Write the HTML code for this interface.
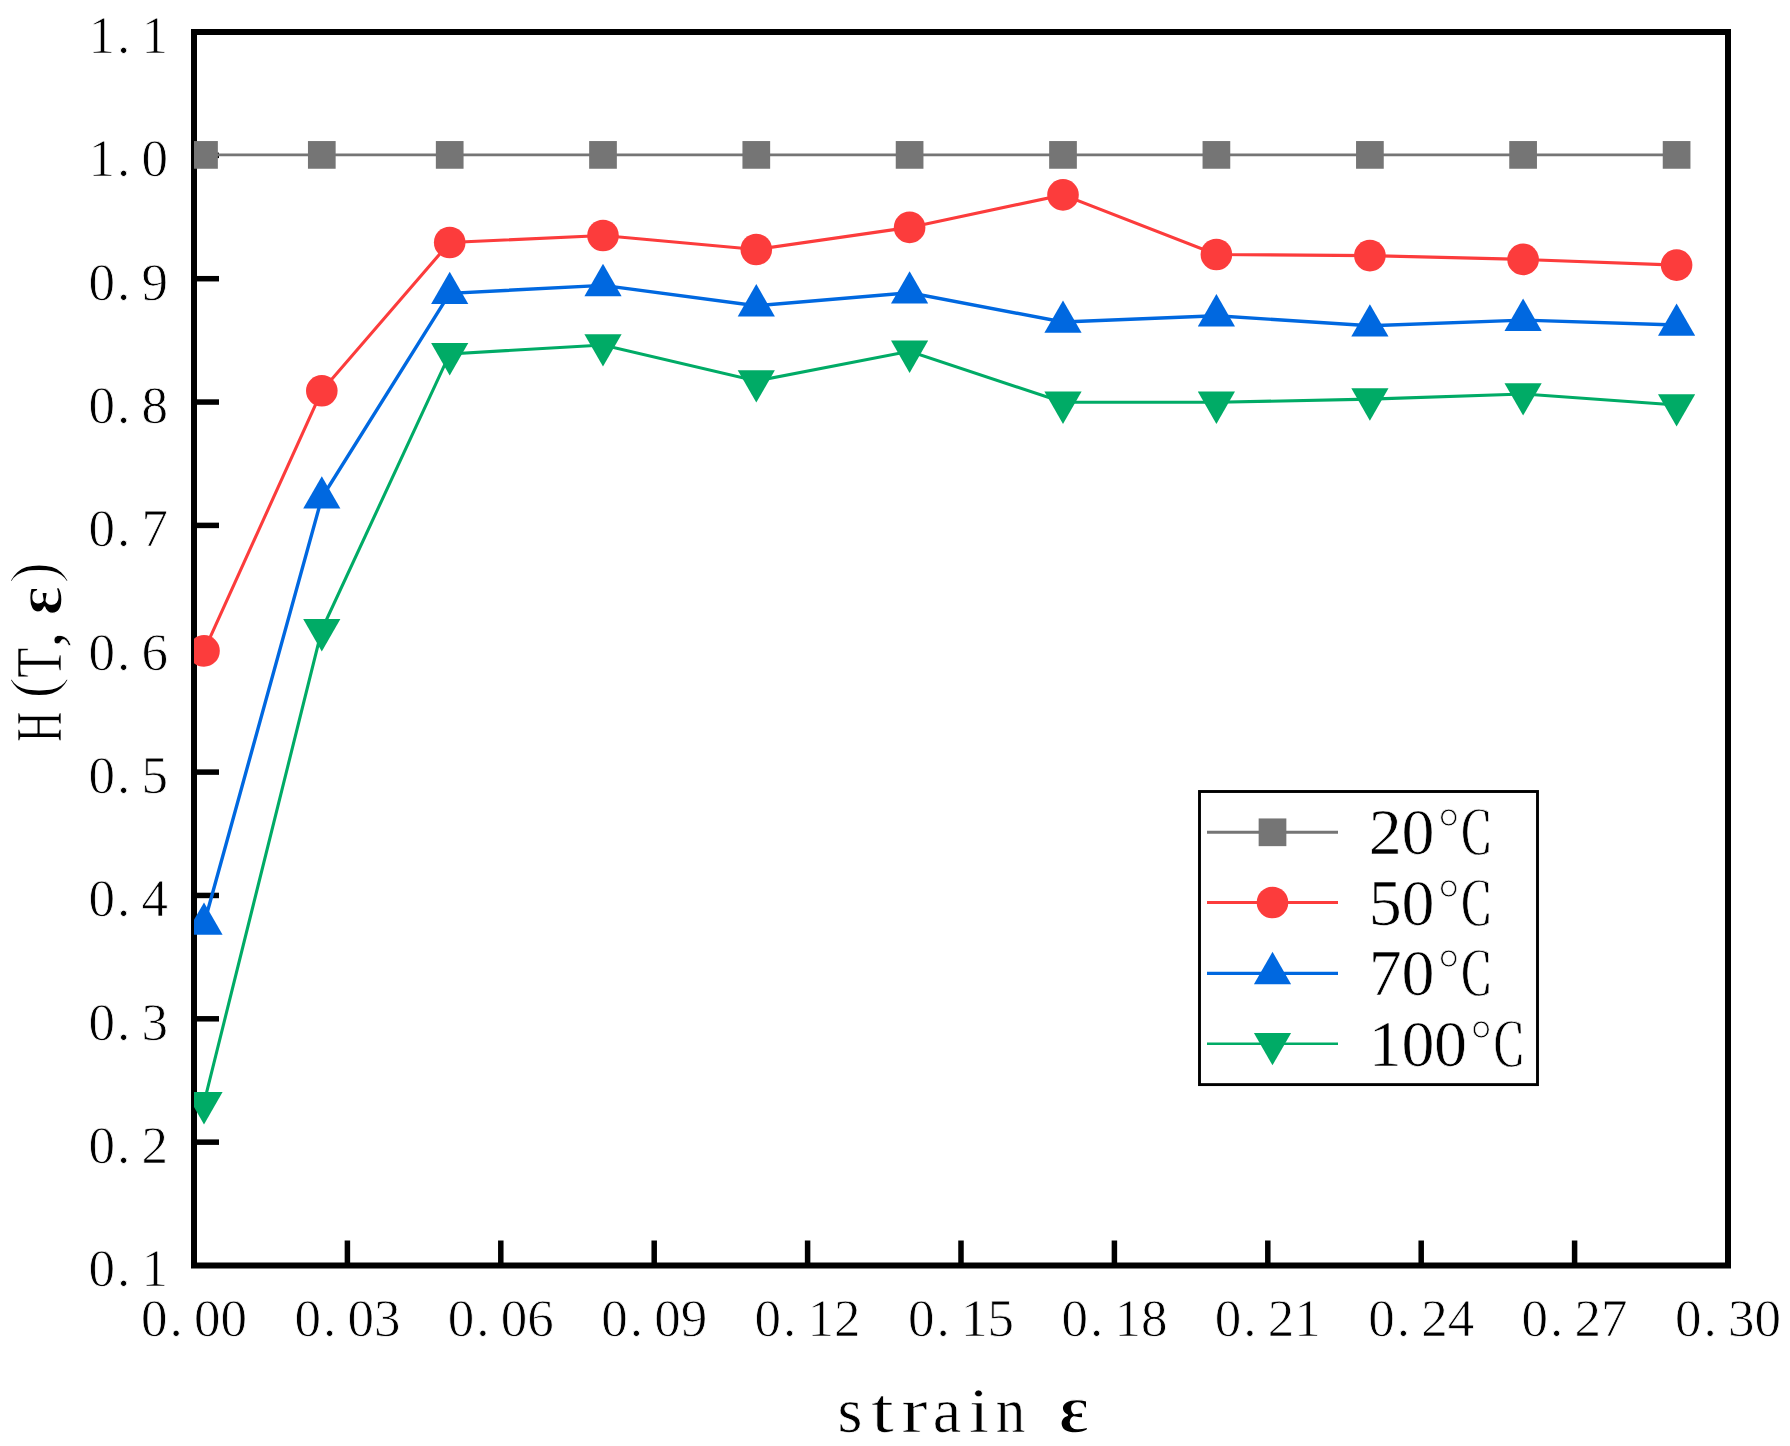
<!DOCTYPE html>
<html lang="en"><head><meta charset="utf-8"><title>H(T,ε) versus strain ε</title>
<style>html,body{margin:0;padding:0;background:#fff}body{width:1790px;height:1446px;overflow:hidden}svg{display:block}text{font-family:'Liberation Serif', 'Noto Serif CJK SC', serif;fill:#000}</style>
</head><body>
<svg width="1790" height="1446" viewBox="0 0 1790 1446">
<rect x="0" y="0" width="1790" height="1446" fill="#fff"/>
<defs><clipPath id="ax"><rect x="194" y="32" width="1534" height="1233.5"/></clipPath></defs>
<g id="frame" fill="none" stroke="#000" stroke-width="6">
<rect x="194" y="32" width="1534" height="1233.5"/>
</g>
<g id="ticks" stroke="#000" stroke-width="5.5">
<line x1="347.4" y1="1265.5" x2="347.4" y2="1240.5"/>
<line x1="500.8" y1="1265.5" x2="500.8" y2="1240.5"/>
<line x1="654.2" y1="1265.5" x2="654.2" y2="1240.5"/>
<line x1="807.6" y1="1265.5" x2="807.6" y2="1240.5"/>
<line x1="961" y1="1265.5" x2="961" y2="1240.5"/>
<line x1="1114.4" y1="1265.5" x2="1114.4" y2="1240.5"/>
<line x1="1267.8" y1="1265.5" x2="1267.8" y2="1240.5"/>
<line x1="1421.2" y1="1265.5" x2="1421.2" y2="1240.5"/>
<line x1="1574.6" y1="1265.5" x2="1574.6" y2="1240.5"/>
<line x1="194" y1="1142.15" x2="219" y2="1142.15"/>
<line x1="194" y1="1018.8" x2="219" y2="1018.8"/>
<line x1="194" y1="895.45" x2="219" y2="895.45"/>
<line x1="194" y1="772.1" x2="219" y2="772.1"/>
<line x1="194" y1="648.75" x2="219" y2="648.75"/>
<line x1="194" y1="525.4" x2="219" y2="525.4"/>
<line x1="194" y1="402.05" x2="219" y2="402.05"/>
<line x1="194" y1="278.7" x2="219" y2="278.7"/>
<line x1="194" y1="155.35" x2="219" y2="155.35"/>
</g>
<g id="ylabels" font-size="53" stroke="#fff" stroke-width="0.75">
<text x="88.5 117 141.5" y="1286.3">0.1</text>
<text x="88.5 117 141.5" y="1162.95">0.2</text>
<text x="88.5 117 141.5" y="1039.6">0.3</text>
<text x="88.5 117 141.5" y="916.25">0.4</text>
<text x="88.5 117 141.5" y="792.9">0.5</text>
<text x="88.5 117 141.5" y="669.55">0.6</text>
<text x="88.5 117 141.5" y="546.2">0.7</text>
<text x="88.5 117 141.5" y="422.85">0.8</text>
<text x="88.5 117 141.5" y="299.5">0.9</text>
<text x="88.5 117 141.5" y="176.15">1.0</text>
<text x="88.5 117 141.5" y="52.8">1.1</text>
</g>
<g id="xlabels" font-size="53" stroke="#fff" stroke-width="0.75">
<text x="141 169.5 194 220.5" y="1336.3">0.00</text>
<text x="294.4 322.9 347.4 373.9" y="1336.3">0.03</text>
<text x="447.8 476.3 500.8 527.3" y="1336.3">0.06</text>
<text x="601.2 629.7 654.2 680.7" y="1336.3">0.09</text>
<text x="754.6 783.1 807.6 834.1" y="1336.3">0.12</text>
<text x="908 936.5 961 987.5" y="1336.3">0.15</text>
<text x="1061.4 1089.9 1114.4 1140.9" y="1336.3">0.18</text>
<text x="1214.8 1243.3 1267.8 1294.3" y="1336.3">0.21</text>
<text x="1368.2 1396.7 1421.2 1447.7" y="1336.3">0.24</text>
<text x="1521.6 1550.1 1574.6 1601.1" y="1336.3">0.27</text>
<text x="1675 1703.5 1728 1754.5" y="1336.3">0.30</text>
</g>
<text id="xtitle" font-size="64" y="1431.5" stroke="#fff" stroke-width="0.6"><tspan x="837.55">s</tspan><tspan x="871.25" textLength="22.5" lengthAdjust="spacingAndGlyphs">t</tspan><tspan x="901.5" textLength="26" lengthAdjust="spacingAndGlyphs">r</tspan><tspan x="932.79">a</tspan><tspan x="969" textLength="20" lengthAdjust="spacingAndGlyphs">i</tspan><tspan x="995.75" textLength="29.5" lengthAdjust="spacingAndGlyphs">n</tspan><tspan x="1026"> </tspan><tspan font-weight="bold" font-size="70" x="1059" stroke-width="1.3">ε</tspan></text>
<g transform="translate(61.2,742.75) rotate(-90)">
<text id="ytitle" font-size="66" y="0" stroke="#fff" stroke-width="0.6"><tspan x="1" textLength="30" lengthAdjust="spacingAndGlyphs">H</tspan><tspan x="44" dy="-6" stroke-width="1.6">(</tspan><tspan x="65" dy="6" textLength="30" lengthAdjust="spacingAndGlyphs">T</tspan><tspan x="95">,</tspan><tspan x="127.5" font-weight="bold" font-size="68" stroke-width="1.3">ε</tspan><tspan x="159" dy="-6" stroke-width="1.6">)</tspan></text>
</g>
<g id="data" clip-path="url(#ax)">
<path d="M204 154.9 L321.8 154.9 L449.7 154.9 L603 154.9 L756.3 154.9 L909.6 154.9 L1063 154.9 L1216.4 154.9 L1369.9 154.9 L1523.1 154.9 L1676.6 154.9" fill="none" stroke="#757575" stroke-width="2.8"/>
<path d="M204 650.9 L321.8 390.8 L449.7 242.5 L603 235.5 L756.3 249.5 L909.6 227.4 L1063 194.9 L1216.4 254.5 L1369.9 255.6 L1523.1 259.4 L1676.6 265.1" fill="none" stroke="#FC3C3C" stroke-width="3.1"/>
<path d="M204 924 L321.8 497.8 L449.7 293.3 L603 285.4 L756.3 305.7 L909.6 292.8 L1063 322 L1216.4 315.7 L1369.9 325.8 L1523.1 320.1 L1676.6 325" fill="none" stroke="#0068E0" stroke-width="3.4"/>
<path d="M204 1102.8 L321.8 629.8 L449.7 353.9 L603 345 L756.3 381 L909.6 351.3 L1063 402.3 L1216.4 402.3 L1369.9 399.1 L1523.1 394 L1676.6 405" fill="none" stroke="#00AB66" stroke-width="3.1"/>
<rect x="190.15" y="141.05" width="27.7" height="27.7" fill="#757575"/>
<rect x="307.95" y="141.05" width="27.7" height="27.7" fill="#757575"/>
<rect x="435.85" y="141.05" width="27.7" height="27.7" fill="#757575"/>
<rect x="589.15" y="141.05" width="27.7" height="27.7" fill="#757575"/>
<rect x="742.45" y="141.05" width="27.7" height="27.7" fill="#757575"/>
<rect x="895.75" y="141.05" width="27.7" height="27.7" fill="#757575"/>
<rect x="1049.15" y="141.05" width="27.7" height="27.7" fill="#757575"/>
<rect x="1202.55" y="141.05" width="27.7" height="27.7" fill="#757575"/>
<rect x="1356.05" y="141.05" width="27.7" height="27.7" fill="#757575"/>
<rect x="1509.25" y="141.05" width="27.7" height="27.7" fill="#757575"/>
<rect x="1662.75" y="141.05" width="27.7" height="27.7" fill="#757575"/>
<circle cx="204" cy="650.9" r="15.8" fill="#FC3C3C"/>
<circle cx="321.8" cy="390.8" r="15.8" fill="#FC3C3C"/>
<circle cx="449.7" cy="242.5" r="15.8" fill="#FC3C3C"/>
<circle cx="603" cy="235.5" r="15.8" fill="#FC3C3C"/>
<circle cx="756.3" cy="249.5" r="15.8" fill="#FC3C3C"/>
<circle cx="909.6" cy="227.4" r="15.8" fill="#FC3C3C"/>
<circle cx="1063" cy="194.9" r="15.8" fill="#FC3C3C"/>
<circle cx="1216.4" cy="254.5" r="15.8" fill="#FC3C3C"/>
<circle cx="1369.9" cy="255.6" r="15.8" fill="#FC3C3C"/>
<circle cx="1523.1" cy="259.4" r="15.8" fill="#FC3C3C"/>
<circle cx="1676.6" cy="265.1" r="15.8" fill="#FC3C3C"/>
<path d="M204 902.4 L222.6 934.8 L185.4 934.8 Z" fill="#0068E0"/>
<path d="M321.8 476.2 L340.4 508.6 L303.2 508.6 Z" fill="#0068E0"/>
<path d="M449.7 271.7 L468.3 304.1 L431.1 304.1 Z" fill="#0068E0"/>
<path d="M603 263.8 L621.6 296.2 L584.4 296.2 Z" fill="#0068E0"/>
<path d="M756.3 284.1 L774.9 316.5 L737.7 316.5 Z" fill="#0068E0"/>
<path d="M909.6 271.2 L928.2 303.6 L891 303.6 Z" fill="#0068E0"/>
<path d="M1063 300.4 L1081.6 332.8 L1044.4 332.8 Z" fill="#0068E0"/>
<path d="M1216.4 294.1 L1235 326.5 L1197.8 326.5 Z" fill="#0068E0"/>
<path d="M1369.9 304.2 L1388.5 336.6 L1351.3 336.6 Z" fill="#0068E0"/>
<path d="M1523.1 298.5 L1541.7 330.9 L1504.5 330.9 Z" fill="#0068E0"/>
<path d="M1676.6 303.4 L1695.2 335.8 L1658 335.8 Z" fill="#0068E0"/>
<path d="M204 1124.4 L222.6 1092 L185.4 1092 Z" fill="#00AB66"/>
<path d="M321.8 651.4 L340.4 619 L303.2 619 Z" fill="#00AB66"/>
<path d="M449.7 375.5 L468.3 343.1 L431.1 343.1 Z" fill="#00AB66"/>
<path d="M603 366.6 L621.6 334.2 L584.4 334.2 Z" fill="#00AB66"/>
<path d="M756.3 402.6 L774.9 370.2 L737.7 370.2 Z" fill="#00AB66"/>
<path d="M909.6 372.9 L928.2 340.5 L891 340.5 Z" fill="#00AB66"/>
<path d="M1063 423.9 L1081.6 391.5 L1044.4 391.5 Z" fill="#00AB66"/>
<path d="M1216.4 423.9 L1235 391.5 L1197.8 391.5 Z" fill="#00AB66"/>
<path d="M1369.9 420.7 L1388.5 388.3 L1351.3 388.3 Z" fill="#00AB66"/>
<path d="M1523.1 415.6 L1541.7 383.2 L1504.5 383.2 Z" fill="#00AB66"/>
<path d="M1676.6 426.6 L1695.2 394.2 L1658 394.2 Z" fill="#00AB66"/>
</g>
<g id="legend">
<rect x="1199.5" y="791.5" width="338" height="293.1" fill="#fff" stroke="#000" stroke-width="2.9"/>
<line x1="1207" y1="832.3" x2="1338" y2="832.3" stroke="#757575" stroke-width="3"/>
<line x1="1207" y1="902.5" x2="1338" y2="902.5" stroke="#FC3C3C" stroke-width="3"/>
<line x1="1207" y1="973.4" x2="1338" y2="973.4" stroke="#0068E0" stroke-width="3.2"/>
<line x1="1207" y1="1043.7" x2="1338" y2="1043.7" stroke="#00AB66" stroke-width="2.5"/>
<rect x="1258.65" y="818.45" width="27.7" height="27.7" fill="#757575"/>
<circle cx="1272.5" cy="902.5" r="15.8" fill="#FC3C3C"/>
<path d="M1272.5 951.8 L1291.1 984.2 L1253.9 984.2 Z" fill="#0068E0"/>
<path d="M1272.5 1065.3 L1291.1 1032.9 L1253.9 1032.9 Z" fill="#00AB66"/>
<text font-size="66" x="1368.8 1401.4" y="854" stroke="#fff" stroke-width="0.6">20<tspan x="1436.5" font-size="58">℃</tspan></text>
<text font-size="66" x="1368.8 1401.4" y="924.7" stroke="#fff" stroke-width="0.6">50<tspan x="1436.5" font-size="58">℃</tspan></text>
<text font-size="66" x="1368.8 1401.4" y="994.8" stroke="#fff" stroke-width="0.6">70<tspan x="1436.5" font-size="58">℃</tspan></text>
<text font-size="66" x="1368.8 1401.4 1434" y="1065.5" stroke="#fff" stroke-width="0.6">100<tspan x="1469.1" font-size="58">℃</tspan></text>
</g>
</svg>
</body></html>
